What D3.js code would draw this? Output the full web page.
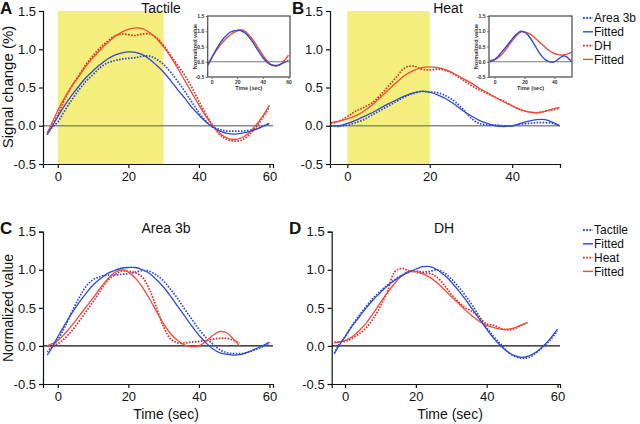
<!DOCTYPE html>
<html><head><meta charset="utf-8">
<script src="https://cdn.jsdelivr.net/npm/d3@7"></script>
<style>
html,body{margin:0;padding:0;background:#fff;}
svg{display:block;font-family:"Liberation Sans",Arial,Helvetica,sans-serif;}
</style></head>
<body>
<svg id="chart" width="640" height="424"></svg>
<script>
// ---------- data ----------
const tA = [-3,-2,0,2,4,6,8,10,12,14,16,18,20,22,24,26,28,30,32,34,36,38,40,42,44,46,48,50,52,54,56,58,60];
const tB = [-4,-2,0,2,4,6,8,10,12,14,16,18,20,22,24,26,28,30,32,34,36,38,40,42,44,46,48,50,51.5];
const tN = [-3,-2,0,2,4,6,8,10,12,14,16,18,20,22,24,26,28,30,32,34,36,38,40,42,44,46,48,50,51.5];

// Panel A: tactile, signal change (%)
const aArea3bData = [-0.09,-0.04,0.05,0.2,0.34,0.47,0.58,0.67,0.76,0.82,0.85,0.87,0.88,0.89,0.91,0.91,0.87,0.8,0.7,0.58,0.45,0.31,0.17,0.06,-0.02,-0.05,-0.07,-0.07,-0.07,-0.06,-0.04,-0.01,0.03];
const aArea3bFit  = [-0.11,-0.04,0.12,0.27,0.4,0.52,0.63,0.72,0.8,0.87,0.92,0.95,0.965,0.96,0.93,0.87,0.79,0.7,0.59,0.47,0.36,0.24,0.14,0.05,-0.02,-0.07,-0.1,-0.11,-0.1,-0.08,-0.05,-0.01,0.03];
const aDHData     = [-0.12,-0.02,0.14,0.35,0.52,0.66,0.8,0.92,1.02,1.1,1.17,1.2,1.19,1.18,1.2,1.2,1.15,1.05,0.92,0.79,0.66,0.5,0.32,0.15,0.0,-0.12,-0.18,-0.2,-0.19,-0.13,-0.03,0.1,0.25];
const aDHFit      = [-0.1,0.0,0.2,0.37,0.52,0.65,0.78,0.89,0.99,1.08,1.16,1.22,1.26,1.28,1.27,1.22,1.14,1.03,0.9,0.75,0.59,0.43,0.27,0.12,0.0,-0.1,-0.16,-0.18,-0.16,-0.1,0.0,0.12,0.27];

// Panel B: heat, signal change (%)
const bArea3bData = [0.0,-0.01,0.01,0.04,0.08,0.14,0.2,0.26,0.32,0.38,0.42,0.45,0.44,0.43,0.39,0.32,0.22,0.1,0.03,0.01,0.01,0.0,0.0,0.02,0.03,0.04,0.04,0.03,0.0];
const bArea3bFit  = [0.0,0.0,0.03,0.07,0.12,0.17,0.23,0.29,0.34,0.39,0.43,0.45,0.44,0.4,0.35,0.28,0.2,0.13,0.07,0.03,0.0,-0.01,0.0,0.03,0.06,0.08,0.08,0.04,0.0];
const bDHData     = [0.03,0.06,0.12,0.19,0.24,0.3,0.4,0.52,0.64,0.76,0.78,0.74,0.73,0.74,0.72,0.67,0.6,0.53,0.47,0.42,0.37,0.32,0.26,0.21,0.18,0.17,0.19,0.21,0.23];
const bDHFit      = [0.04,0.06,0.09,0.13,0.19,0.27,0.37,0.47,0.57,0.66,0.72,0.76,0.77,0.76,0.73,0.68,0.62,0.56,0.49,0.43,0.37,0.31,0.26,0.21,0.18,0.17,0.19,0.22,0.24];

// Panel C: Area 3b, normalized
const cTactileData = [-0.08,-0.03,0.08,0.25,0.45,0.63,0.78,0.87,0.91,0.93,0.93,0.94,0.95,0.97,0.99,0.98,0.93,0.85,0.74,0.62,0.48,0.35,0.22,0.11,0.02,-0.05,-0.09,-0.1,-0.1,-0.08,-0.05,-0.01,0.04];
const cTactileFit  = [-0.12,-0.05,0.12,0.28,0.43,0.57,0.69,0.8,0.88,0.95,0.99,1.02,1.03,1.03,1.0,0.95,0.87,0.77,0.65,0.52,0.39,0.26,0.14,0.04,-0.04,-0.09,-0.11,-0.12,-0.11,-0.08,-0.04,0.0,0.05];
const cHeatData    = [0.0,-0.01,0.03,0.1,0.2,0.32,0.45,0.58,0.72,0.85,0.93,0.98,0.98,0.96,0.9,0.74,0.5,0.25,0.09,0.04,0.04,0.05,0.06,0.07,0.09,0.1,0.1,0.07,0.04];
const cHeatFit     = [0.0,0.02,0.07,0.16,0.27,0.39,0.51,0.63,0.76,0.87,0.96,1.0,0.97,0.89,0.77,0.62,0.45,0.29,0.16,0.07,0.01,-0.01,0.0,0.06,0.14,0.19,0.17,0.08,0.0];

// Panel D: DH, normalized
const dTactileData = [-0.1,0.0,0.12,0.27,0.4,0.52,0.63,0.72,0.8,0.87,0.93,0.97,0.98,0.97,0.98,1.0,0.96,0.88,0.78,0.66,0.53,0.38,0.24,0.12,0.02,-0.08,-0.14,-0.16,-0.15,-0.09,-0.01,0.08,0.2];
const dTactileFit  = [-0.1,-0.02,0.12,0.26,0.38,0.5,0.61,0.7,0.79,0.86,0.92,0.97,1.01,1.04,1.04,1.0,0.93,0.84,0.73,0.61,0.48,0.35,0.22,0.1,0.0,-0.08,-0.13,-0.15,-0.13,-0.08,0.0,0.1,0.22];
const dHeatData    = [0.05,0.05,0.06,0.1,0.16,0.24,0.36,0.52,0.72,0.97,1.02,0.99,0.97,0.95,0.95,0.9,0.8,0.68,0.58,0.5,0.45,0.37,0.29,0.27,0.23,0.21,0.23,0.28,0.3];
const dHeatFit     = [0.04,0.05,0.07,0.12,0.2,0.3,0.43,0.57,0.7,0.82,0.92,0.98,0.98,0.95,0.9,0.83,0.74,0.65,0.56,0.47,0.39,0.32,0.27,0.24,0.22,0.22,0.24,0.28,0.31];

const yTicks = [-0.5,0,0.5,1.0,1.5];
const xTicks60 = [0,20,40,60];
const xTicks40 = [0,20,40];
const legendB = ["Area 3b","Fitted","DH","Fitted"];
const legendD = ["Tactile","Fitted","Heat","Fitted"];

// ---------- drawing ----------
const BLUE = "#2d4bd6", RED_D = "#e3262b", RED_S = "#ee4b38", YEL = "#f4ef7c";
const svg = d3.select("#chart");
const fmt = d => d.toFixed(1);

function series(xs, ys){ return xs.map((x,i)=>[x, ys[i]]); }

function drawLine(g, x, y, xs, ys, color, dotted, w){
  const line = d3.line().x(d=>x(d[0])).y(d=>y(d[1])).curve(d3.curveCatmullRom.alpha(0.5));
  g.append("path").attr("d", line(series(xs,ys)))
    .attr("fill","none").attr("stroke",color)
    .attr("stroke-width", w || (dotted?1.7:1.3))
    .attr("stroke-dasharray", dotted ? "1.6,1.4" : null)
    .attr("stroke-linecap","butt");
}

function panel(o){
  const g = svg.append("g");
  const x = d3.scaleLinear().domain(o.xd).range(o.xr);
  const y = d3.scaleLinear().domain([-0.5,1.5]).range(o.yr);
  if (o.shade) {
    g.append("rect").attr("x", x(o.shade[0])).attr("width", x(o.shade[1])-x(o.shade[0]))
      .attr("y", y(1.5)).attr("height", y(-0.5)-y(1.5)).attr("fill", YEL);
  }
  g.append("line").attr("x1", o.xr[0]).attr("x2", o.xr[1]).attr("y1", y(0)).attr("y2", y(0))
    .attr("stroke", o.zeroColor).attr("stroke-width", o.zeroW);
  o.lines.forEach(l => drawLine(g, x, y, l[0], l[1], l[2], l[3]));
  const ya = g.append("g").attr("transform", `translate(${o.xr[0]},0)`)
    .call(d3.axisLeft(y).tickValues(yTicks).tickFormat(fmt).tickSizeOuter(0).tickSize(4).tickPadding(3));
  const xa = g.append("g").attr("transform", `translate(0,${o.yr[0]})`)
    .call(d3.axisBottom(x).tickValues(o.xt).tickFormat(d3.format("d")).tickSizeOuter(0).tickSize(4).tickPadding(4));
  [ya, xa].forEach(a => {
    a.selectAll("text").attr("font-size", 13).attr("fill","#111").attr("font-family","Liberation Sans, Arial, sans-serif");
    a.selectAll("path,line").attr("stroke","#111").attr("stroke-width",1.2);
  });
  return {x, y, g};
}

function inset(o){
  const g = svg.append("g");
  const x = d3.scaleLinear().domain(o.xd).range(o.xr);
  const y = d3.scaleLinear().domain([-0.5,1.5]).range(o.yr);
  g.append("rect").attr("x",o.xr[0]).attr("y",o.yr[1]).attr("width",o.xr[1]-o.xr[0]).attr("height",o.yr[0]-o.yr[1])
    .attr("fill","#fff");
  g.append("line").attr("x1", o.xr[0]).attr("x2", o.xr[1]).attr("y1", y(0)).attr("y2", y(0))
    .attr("stroke","#777").attr("stroke-width",1.2);
  o.lines.forEach(l => drawLine(g, x, y, l[0], l[1], l[2], false, 1.4));
  g.append("rect").attr("x",o.xr[0]).attr("y",o.yr[1]).attr("width",o.xr[1]-o.xr[0]).attr("height",o.yr[0]-o.yr[1])
    .attr("fill","none").attr("stroke","#555").attr("stroke-width",1.3);
  const ya = g.append("g").attr("transform", `translate(${o.xr[0]},0)`)
    .call(d3.axisLeft(y).tickValues(yTicks).tickFormat(fmt).tickSizeOuter(0).tickSize(2).tickPadding(1.5));
  const xa = g.append("g").attr("transform", `translate(0,${o.yr[0]})`)
    .call(d3.axisBottom(x).tickValues(o.xt).tickFormat(d3.format("d")).tickSizeOuter(0).tickSize(2).tickPadding(1));
  [ya, xa].forEach(a => {
    a.selectAll("text").attr("font-size", 5).attr("font-weight","bold").attr("fill","#333").attr("font-family","Liberation Sans, Arial, sans-serif");
    a.selectAll("path").attr("stroke","none");
    a.selectAll("line").attr("stroke","#555").attr("stroke-width",0.8);
  });
  g.append("text").attr("x",(o.xr[0]+o.xr[1])/2).attr("y",o.yr[0]+12.5).attr("text-anchor","middle")
    .attr("font-size",5.5).attr("font-weight","bold").attr("fill","#333").text("Time (sec)");
  g.append("text").attr("transform",`translate(${o.xr[0]-11},${(o.yr[0]+o.yr[1])/2}) rotate(-90)`)
    .attr("text-anchor","middle").attr("font-size",5.5).attr("font-weight","bold").attr("fill","#333").text("Normalized value");
}

function text(x, y, s, size, opts={}){
  const t = svg.append("text").attr("x",x).attr("y",y).attr("font-size",size).attr("fill","#111").text(s);
  if (opts.anchor) t.attr("text-anchor", opts.anchor);
  if (opts.bold) t.attr("font-weight","bold");
  if (opts.rotate) t.attr("transform", `rotate(-90,${x},${y})`);
  return t;
}

// Panel A
panel({xd:[-4.2,61], xr:[43,273], yr:[164,11], shade:[0,30], xt:xTicks60, zeroColor:"#8a8a8a", zeroW:1.6,
  lines:[[tA,aArea3bData,BLUE,true],[tA,aDHData,RED_D,true],[tA,aDHFit,RED_S,false],[tA,aArea3bFit,BLUE,false]]});
// Panel B
panel({xd:[-4.2,51.6], xr:[330,560], yr:[164,11], shade:[0,20], xt:xTicks40, zeroColor:"#8a8a8a", zeroW:1.6,
  lines:[[tB,bArea3bData,BLUE,true],[tB,bDHData,RED_D,true],[tB,bDHFit,RED_S,false],[tB,bArea3bFit,BLUE,false]]});
// Panel C
panel({xd:[-4.2,61], xr:[43,273], yr:[384,231.7], xt:xTicks60, zeroColor:"#111", zeroW:1.2,
  lines:[[tA,cTactileData,BLUE,true],[tN,cHeatData,RED_D,true],[tN,cHeatFit,RED_S,false],[tA,cTactileFit,BLUE,false]]});
// Panel D
panel({xd:[-3.76,60.7], xr:[331.7,560], yr:[384,231.7], xt:xTicks60, zeroColor:"#111", zeroW:1.2,
  lines:[[tA,dTactileData,BLUE,true],[tN,dHeatData,RED_D,true],[tN,dHeatFit,RED_S,false],[tA,dTactileFit,BLUE,false]]});

// Insets (normalized fitted curves)
inset({xd:[-3,61.2], xr:[207.7,290], yr:[77,16], xt:xTicks60,
  lines:[[tA,dTactileFit,RED_S],[tA,cTactileFit,BLUE]]});
inset({xd:[-3.7,51.8], xr:[489,572], yr:[77,16], xt:xTicks40,
  lines:[[tN,dHeatFit,RED_S],[tN,cHeatFit,BLUE]]});

// Legends
function legend(x0, ys, labels){
  labels.forEach((s,i)=>{
    const color = i<2 ? BLUE : (i===2 ? RED_D : RED_S);
    const dotted = i%2===0;
    svg.append("line").attr("x1",x0).attr("x2",x0+10).attr("y1",ys[i]).attr("y2",ys[i])
      .attr("stroke",color).attr("stroke-width",dotted?1.8:1.4)
      .attr("stroke-dasharray",dotted?"1.8,1.4":null);
    text(x0+11, ys[i]+4.3, s, 12);
  });
}
legend(583, [18,31.8,45.6,59.4], legendB);
legend(583, [230,243.8,257.6,271.4], legendD);

// Titles & labels
text(161, 13, "Tactile", 14, {anchor:"middle"});
text(448, 13, "Heat", 14, {anchor:"middle"});
text(166, 233, "Area 3b", 14, {anchor:"middle"});
text(444, 233, "DH", 14, {anchor:"middle"});
text(0, 14, "A", 17, {bold:true});
text(292, 14, "B", 17, {bold:true});
text(0, 234, "C", 17, {bold:true});
text(289, 234, "D", 17, {bold:true});
text(13, 87, "Signal change (%)", 15, {anchor:"middle", rotate:true});
text(13, 308, "Normalized value", 14, {anchor:"middle", rotate:true});
text(166, 419, "Time (sec)", 14, {anchor:"middle"});
text(450, 419, "Time (sec)", 14, {anchor:"middle"});
</script>
</body></html>
